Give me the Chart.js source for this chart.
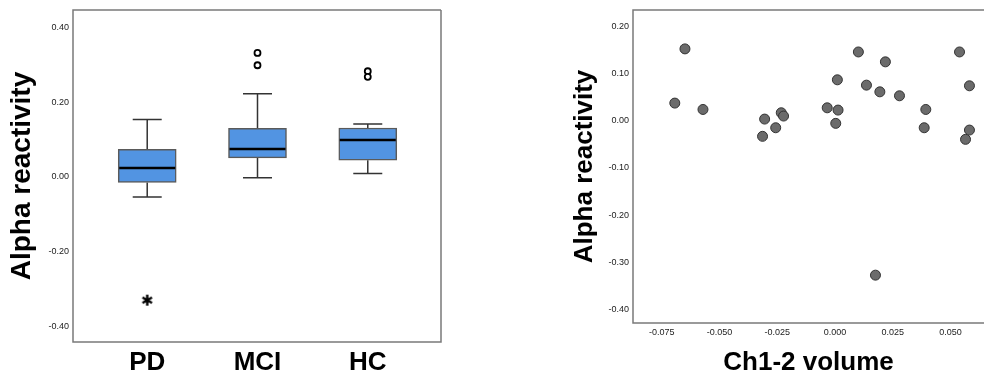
<!DOCTYPE html>
<html>
<head>
<meta charset="utf-8">
<script src="https://cdn.jsdelivr.net/npm/chart.js@4.4.1/dist/chart.umd.min.js"></script>
<style>
  html, body { margin: 0; padding: 0; background: #fff; overflow: hidden; }
  #wrap { position: relative; width: 990px; height: 378px; }
  #box-wrap { position: absolute; left: 0; top: 0; width: 460px; height: 378px; }
  #sc-wrap  { position: absolute; left: 560px; top: 0; width: 430px; height: 378px; }
</style>
</head>
<body>
<div id="wrap">
  <div id="box-wrap"><canvas id="box-chart" width="460" height="378"></canvas></div>
  <div id="sc-wrap"><canvas id="scatter-chart" width="430" height="378"></canvas></div>
</div>
<script>
// ── Data ─────────────────────────────────────────────────
const groups       = ['PD', 'MCI', 'HC'];
const whiskerLow   = [-0.054, -0.002, 0.009];
const q1           = [-0.015,  0.051, 0.045];
const median       = [ 0.024,  0.075, 0.099];
const q3           = [ 0.074,  0.130, 0.131];
const whiskerHigh  = [ 0.154,  0.223, 0.142];
const outlierGroup = [1, 1, 2, 2];
const outlierValue = [0.332, 0.299, 0.283, 0.268];
const extremeGroup = [0];
const extremeValue = [-0.330];
const boxTicks     = [-0.4, -0.2, 0, 0.2, 0.4];

const volume = [-0.0694, -0.0650, -0.0572, -0.0305, -0.0314, -0.0257, -0.0233, -0.0223,
                -0.0034,  0.0010,  0.0013,  0.0003,  0.0101,  0.0136,  0.0194,  0.0218,
                 0.0279,  0.0175,  0.0393,  0.0386,  0.0539,  0.0582,  0.0582,  0.0565];
const alpha  = [ 0.0375,  0.1525,  0.0240,  0.0036, -0.0330, -0.0148,  0.0170,  0.0100,
                 0.0275,  0.0869,  0.0227, -0.0055,  0.1460,  0.0756,  0.0614,  0.1250,
                 0.0530, -0.3275,  0.0240, -0.0148,  0.1460,  0.0742, -0.0197, -0.0394];
const volTicks   = [-0.075, -0.05, -0.025, 0, 0.025, 0.05];
const alphaTicks = [-0.4, -0.3, -0.2, -0.1, 0, 0.1, 0.2];

const FONT = "'Liberation Sans', Arial, sans-serif";

// ── Plugins ──────────────────────────────────────────────
const framePlugin = {
  id: 'frame',
  afterDraw(chart, args, opts) {
    const { ctx, chartArea: a } = chart;
    ctx.save();
    ctx.strokeStyle = '#7a7a7a';
    ctx.lineWidth = 1.5;
    ctx.beginPath();
    ctx.moveTo(a.right, a.top); ctx.lineTo(a.left, a.top);
    ctx.lineTo(a.left, a.bottom); ctx.lineTo(a.right, a.bottom);
    if (opts.closed) ctx.lineTo(a.right, a.top);
    ctx.stroke();
    ctx.restore();
  }
};

const whiskerPlugin = {
  id: 'whiskers',
  beforeDatasetsDraw(chart) {
    const { ctx, scales: { x, y } } = chart;
    ctx.save();
    ctx.strokeStyle = '#333';
    ctx.lineWidth = 1.5;
    groups.forEach((g, i) => {
      const px = x.getPixelForValue(i);
      ctx.beginPath();
      ctx.moveTo(px, y.getPixelForValue(whiskerLow[i]));
      ctx.lineTo(px, y.getPixelForValue(q1[i]));
      ctx.moveTo(px, y.getPixelForValue(q3[i]));
      ctx.lineTo(px, y.getPixelForValue(whiskerHigh[i]));
      [whiskerLow[i], whiskerHigh[i]].forEach(v => {
        const py = y.getPixelForValue(v);
        ctx.moveTo(px - 14.5, py); ctx.lineTo(px + 14.5, py);
      });
      ctx.stroke();
    });
    ctx.restore();
  },
  afterDatasetsDraw(chart) {
    const { ctx, scales: { x, y } } = chart;
    const bars = chart.getDatasetMeta(0).data;
    ctx.save();
    ctx.strokeStyle = '#000';
    ctx.lineWidth = 2.5;
    groups.forEach((g, i) => {
      const px = x.getPixelForValue(i);
      const half = bars[i].width / 2 - 1;
      const py = y.getPixelForValue(median[i]);
      ctx.beginPath();
      ctx.moveTo(px - half, py); ctx.lineTo(px + half, py);
      ctx.stroke();
    });
    ctx.restore();
  }
};

// asterisk marker for extreme values
function asterisk(size) {
  const c = document.createElement('canvas');
  c.width = c.height = size;
  const g = c.getContext('2d');
  const m = size / 2, r = size / 2 - 1;
  g.strokeStyle = '#000';
  g.lineWidth = 2.4;
  g.beginPath();
  [90, 30, 150].forEach(d => {
    const t = d * Math.PI / 180;
    g.moveTo(m - r * Math.cos(t), m - r * Math.sin(t));
    g.lineTo(m + r * Math.cos(t), m + r * Math.sin(t));
  });
  g.stroke();
  return c;
}

const tickFont = { family: FONT, size: 9 };

// ── Box plot ─────────────────────────────────────────────
new Chart(document.getElementById('box-chart'), {
  type: 'bar',
  data: {
    datasets: [
      {
        data: groups.map((g, i) => ({ x: i, y: [q1[i], q3[i]] })),
        backgroundColor: '#5294e2',
        borderColor: '#5a5a5a',
        borderWidth: 1.5,
        borderSkipped: false,
        barThickness: 58,
        grouped: false
      },
      {
        type: 'scatter',
        data: outlierGroup.map((g, i) => ({ x: g, y: outlierValue[i] })),
        pointStyle: 'circle',
        pointRadius: 3,
        pointBackgroundColor: '#fff',
        pointBorderColor: '#000',
        pointBorderWidth: 1.8
      },
      {
        type: 'scatter',
        data: extremeGroup.map((g, i) => ({ x: g, y: extremeValue[i] })),
        pointStyle: asterisk(13),
        pointRadius: 6.5
      }
    ]
  },
  options: {
    responsive: false,
    animation: false,
    layout: { padding: { top: 10, right: 19, bottom: 0, left: 0 } },
    plugins: { legend: { display: false }, tooltip: { enabled: false }, frame: { closed: true } },
    scales: {
      x: {
        type: 'linear',
        offset: false,
        min: -0.673, max: 2.664,
        afterBuildTicks: axis => { axis.ticks = groups.map((g, i) => ({ value: i })); },
        afterFit: axis => { axis.height = 36; },
        ticks: {
          callback: v => groups[v],
          font: { family: FONT, size: 26, weight: 'bold', lineHeight: 1 },
          color: '#000',
          padding: 8,
          maxRotation: 0
        },
        grid: { display: false, drawTicks: false },
        border: { display: false }
      },
      y: {
        min: -0.442, max: 0.447,
        afterBuildTicks: axis => { axis.ticks = boxTicks.map(v => ({ value: v })); },
        afterFit: axis => { axis.width = 73; },
        ticks: { callback: v => v.toFixed(2), font: tickFont, color: '#222', padding: 4 },
        grid: { display: false, drawTicks: false },
        border: { display: false },
        title: {
          display: true, text: 'Alpha reactivity', color: '#000',
          font: { family: FONT, size: 28, weight: 'bold', lineHeight: 1 },
          padding: { top: 8.5, bottom: 0 }
        }
      }
    }
  },
  plugins: [whiskerPlugin, framePlugin]
});

// ── Scatter ──────────────────────────────────────────────
new Chart(document.getElementById('scatter-chart'), {
  type: 'scatter',
  data: {
    datasets: [{
      data: volume.map((v, i) => ({ x: v, y: alpha[i] })),
      pointRadius: 5,
      pointBackgroundColor: '#6b6b6b',
      pointBorderColor: '#333',
      pointBorderWidth: 1
    }]
  },
  options: {
    responsive: false,
    animation: false,
    layout: { padding: { top: 10, right: 0, bottom: 0, left: 0 } },
    plugins: { legend: { display: false }, tooltip: { enabled: false }, frame: { closed: false } },
    scales: {
      x: {
        min: -0.0875, max: 0.0645,
        afterBuildTicks: axis => { axis.ticks = volTicks.map(v => ({ value: v })); },
        afterFit: axis => { axis.height = 55; },
        ticks: { callback: v => v.toFixed(3), font: tickFont, color: '#222', padding: 4, maxRotation: 0 },
        grid: { display: false, drawTicks: false },
        border: { display: false },
        title: {
          display: true, text: 'Ch1-2 volume', color: '#000',
          font: { family: FONT, size: 26, weight: 'bold', lineHeight: 1 },
          padding: { top: 0, bottom: 2 }
        }
      },
      y: {
        min: -0.429, max: 0.235,
        afterBuildTicks: axis => { axis.ticks = alphaTicks.map(v => ({ value: v })); },
        afterFit: axis => { axis.width = 73; },
        ticks: { callback: v => v.toFixed(2), font: tickFont, color: '#222', padding: 4 },
        grid: { display: false, drawTicks: false },
        border: { display: false },
        title: {
          display: true, text: 'Alpha reactivity', color: '#000',
          font: { family: FONT, size: 26, weight: 'bold', lineHeight: 1 },
          padding: { top: 12, bottom: 0 }
        }
      }
    }
  },
  plugins: [framePlugin]
});
</script>
</body>
</html>
